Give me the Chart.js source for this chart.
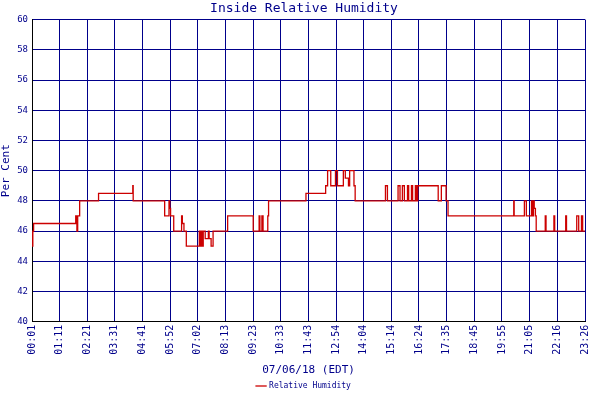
<!DOCTYPE html>
<html><head><meta charset="utf-8">
<script src="https://cdn.jsdelivr.net/npm/chart.js@4"></script>
<style>html,body{margin:0;padding:0;background:#fff}#w{width:600px;height:400px}</style>
</head><body><div id="w"><canvas id="c"></canvas></div>
<script>
// [minute of day at which reading changes, new reading %]
const readings = [
 [1,46],[3,45],[5,46],[112,46.5],[115,47],[117,46],[122,47],[170,48],[257,48.5],[258,49],
 [338,48],[349,47],[351,48],[353,47.5],[361,47],[381,46],[383,47],[387,46.5],[393,46],
 [426,45],[428,46],[430,45],[433,46],[436,45],[441,46],[449,45.5],[451,46],[456,45.5],[461,45],[498,46],
 [563,47],[578,46],[580,47],[585,46],[588,47],[600,46],[602,47],[697,48],
 [747,48.5],[752,49],[760,50],[772,49],[777,50],[792,49],[797,50],[805,49.5],[808,49],[819,50],[822,49],
 [899,48],[904,49],[931,48],[936,49],[942,48],[947,49],[955,48],[958,49],[965,48],[968,49],[975,48],[978,49],[981,48],
 [1033,49],[1041,48],[1053,49],[1058,48],[1225,47],[1226,48],[1252,47],[1257,48],[1270,47],[1272,48],[1275,47],[1277,48],[1280,47.5],[1282,47],
 [1305,46],[1307,47],[1327,46],[1329,47],[1357,46],[1359,47],[1385,46],[1390,47],[1397,46],[1400,47],[1403,46],[1407,46]
];
const tickMinutes = [1,71,141,211,281,352,422,493,563,633,703,774,844,914,984,1055,1125,1195,1265,1336,1406];
const tickLabels = ["00:01","01:11","02:21","03:31","04:41","05:52","07:02","08:13","09:23","10:33","11:43","12:54","14:04","15:14","16:24","17:35","18:45","19:55","21:05","22:16","23:26"];
const yMin=40, yMax=60, yStep=2;

const pts = readings.map(r=>({x:r[0],y:r[1]}));
const navy='#00008b';
const font={family:'DejaVu Sans Mono',size:10};
new Chart(document.getElementById('c'),{
 type:'line',
 data:{datasets:[{label:'Relative Humidity',data:pts,borderColor:'#cc0000',backgroundColor:'#cc0000',borderWidth:1.3,pointRadius:0,stepped:'after',fill:false}]},
 options:{responsive:true,maintainAspectRatio:false,animation:false,
  layout:{padding:{top:0,right:-8,left:0,bottom:0}},
  plugins:{
   title:{display:true,text:'Inside Relative Humidity',color:navy,font:{family:'DejaVu Sans Mono',size:13,weight:'normal'},padding:{top:1,bottom:3}},
   legend:{position:'bottom',labels:{color:navy,font:{family:'DejaVu Sans Mono',size:8},usePointStyle:true,pointStyle:'line',boxWidth:14,padding:1}},
   tooltip:{enabled:false}},
  scales:{
   x:{type:'linear',min:tickMinutes[0],max:tickMinutes[tickMinutes.length-1],
    afterBuildTicks:s=>{s.ticks=tickMinutes.map(v=>({value:v}));},
    ticks:{color:navy,font,maxRotation:90,minRotation:90,autoSkip:false,padding:3,
     callback:(v,i)=>tickLabels[i]},
    grid:{color:navy,lineWidth:1,drawTicks:false},border:{color:'#000'},
    title:{display:true,text:'07/06/18 (EDT)',color:navy,font:{family:'DejaVu Sans Mono',size:11},padding:{top:6,bottom:4}}},
   y:{min:yMin,max:yMax,ticks:{stepSize:yStep,color:navy,font:{family:'DejaVu Sans Mono',size:9},padding:4},
    grid:{color:navy,lineWidth:1,drawTicks:false},border:{color:'#000'},
    title:{display:true,text:'Per Cent',color:navy,font:{family:'DejaVu Sans Mono',size:11},padding:0}}
  }}
});
</script></body></html>
